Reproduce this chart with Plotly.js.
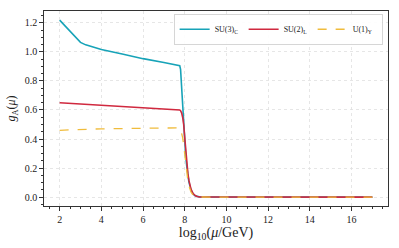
<!DOCTYPE html>
<html><head><meta charset="utf-8">
<script src="https://cdn.plot.ly/plotly-3.0.1.min.js"></script>
<style>html,body{margin:0;padding:0;background:#fff}#chart{width:399px;height:248px}</style>
</head><body><div id="chart"></div>
<script>
const logMu = [2, 2.25, 2.5, 2.75, 3.0, 3.25, 3.5, 4, 5, 6, 7, 7.76, 7.8, 7.85, 7.9, 7.95, 8.0, 8.05, 8.1, 8.15, 8.2, 8.3, 8.4, 8.5, 8.6, 8.7, 9, 10, 12, 14, 16, 17];
const gSU3 = [1.218, 1.18, 1.14, 1.10, 1.065, 1.048, 1.038, 1.016, 0.985, 0.953, 0.927, 0.905, 0.88, 0.76, 0.60, 0.45, 0.36, 0.28, 0.21, 0.15, 0.105, 0.05, 0.022, 0.009, 0.004, 0.002, 0.0005, 0, 0, 0, 0, 0];
const gSU2 = [0.650, 0.648, 0.646, 0.644, 0.641, 0.639, 0.637, 0.633, 0.624, 0.615, 0.607, 0.600, 0.595, 0.58, 0.55, 0.50, 0.41, 0.32, 0.23, 0.165, 0.115, 0.055, 0.025, 0.011, 0.005, 0.002, 0.0005, 0, 0, 0, 0, 0];
const gU1 = [0.460, 0.462, 0.464, 0.465, 0.466, 0.467, 0.468, 0.470, 0.473, 0.475, 0.476, 0.477, 0.47, 0.445, 0.41, 0.36, 0.29, 0.22, 0.16, 0.115, 0.08, 0.035, 0.015, 0.006, 0.003, 0.001, 0, 0, 0, 0, 0, 0];
const names = ["SU(3)<sub>C</sub>", "SU(2)<sub>L</sub>", "U(1)<sub>Y</sub>"];
const xTicks = [2, 4, 6, 8, 10, 12, 14, 16];
const yTicks = [0, 0.2, 0.4, 0.6, 0.8, 1.0, 1.2];

const font = "Liberation Serif, DejaVu Serif, serif";
const traces = [
  {x: logMu, y: gSU3, name: names[0], mode: "lines", line: {color: "#17a3b8", width: 1.6}},
  {x: logMu, y: gSU2, name: names[1], mode: "lines", line: {color: "#d0293f", width: 1.6}},
  {x: logMu, y: gU1, name: names[2], mode: "lines", line: {color: "#f0bc3c", width: 1.3, dash: "dash"}}
];
const axisCommon = {
  showline: true, mirror: true, linecolor: "#333", linewidth: 1.3,
  ticks: "outside", ticklen: 3.5, tickwidth: 1, tickcolor: "#333",
  showgrid: true, gridcolor: "#e0e0e0", griddash: "dot", gridwidth: 0.8,
  zeroline: false, tickfont: {family: font, size: 10, color: "#222"}
};
const layout = {
  width: 399, height: 248,
  margin: {l: 44, r: 11, t: 11, b: 42},
  paper_bgcolor: "#fff", plot_bgcolor: "#fff",
  font: {family: font, color: "#222"},
  showlegend: true,
  legend: {orientation: "h", x: 0.985, xanchor: "right", y: 0.985, yanchor: "top",
    bgcolor: "rgba(255,255,255,0.9)", bordercolor: "#ccc", borderwidth: 0.8,
    font: {family: font, size: 8, color: "#222"}, entrywidth: 24, tracegroupgap: 0},
  xaxis: Object.assign({}, axisCommon, {
    range: [1.25, 17.75], tickvals: xTicks, ticktext: xTicks.map(String),
    minor: {dtick: 0.5, tick0: 0, ticks: "outside", ticklen: 2, tickcolor: "#333", showgrid: false},
    title: {text: "log<sub>10</sub>(<i>μ</i>/GeV)", font: {family: font, size: 14, color: "#222"}, standoff: 2}
  }),
  yaxis: Object.assign({}, axisCommon, {
    range: [-0.061, 1.281], tickvals: yTicks, ticktext: yTicks.map(v => v.toFixed(1)),
    minor: {dtick: 0.05, tick0: 0, ticks: "outside", ticklen: 2, tickcolor: "#333", showgrid: false},
    title: {text: "<i>g</i><sub>A</sub>(<i>μ</i>)", font: {family: font, size: 12, color: "#222"}, standoff: 6}
  })
};
Plotly.newPlot("chart", traces, layout, {displayModeBar: false, staticPlot: true});
</script></body></html>
